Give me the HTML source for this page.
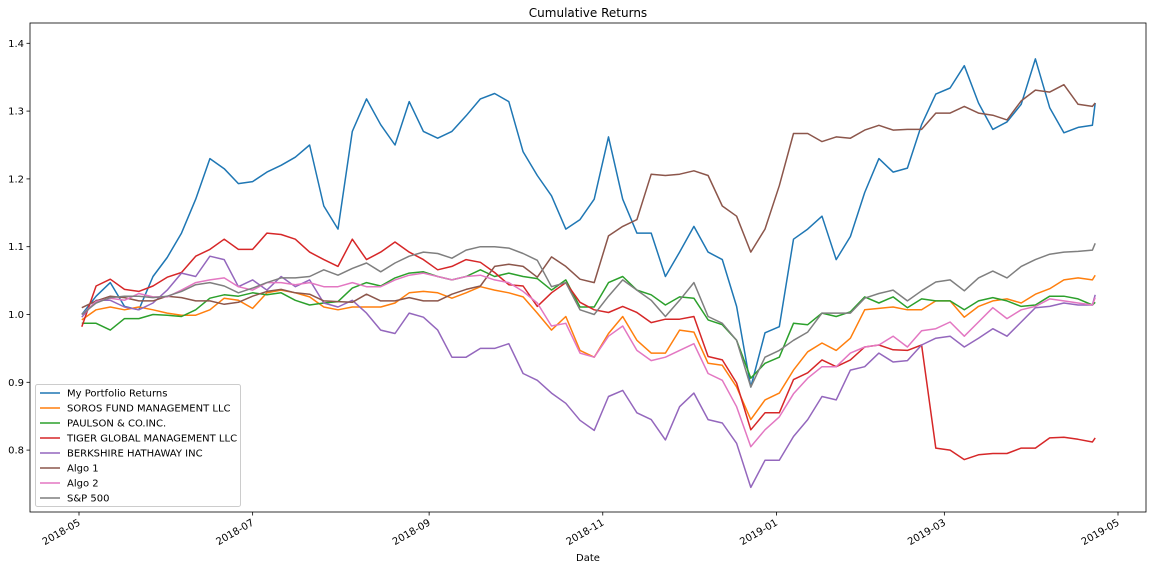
<!DOCTYPE html>
<html><head><meta charset="utf-8"><style>
html,body{margin:0;padding:0;background:#fff;}
svg text{font-family:"DejaVu Sans","Liberation Sans",sans-serif;fill:#000;}
</style></head><body>
<svg id="chart" width="1153" height="570" viewBox="0 0 1153 570" xmlns="http://www.w3.org/2000/svg">
<rect x="0" y="0" width="1153" height="570" fill="#fff"/>
<text x="588" y="17" font-size="12" text-anchor="middle">Cumulative Returns</text>
<g id="series"></g>
<g id="axes"></g>
<g id="legend"></g>
<text x="588" y="561" font-size="10" text-anchor="middle">Date</text>
</svg>
<script>
// day offsets from 2018-05-01
const dayOffsets = [1,6,11,16,21,26,31,36,41,46,51,56,61,66,71,76,81,86,91,96,101,106,111,116,121,126,131,136,141,146,151,156,161,166,171,176,181,186,191,196,201,206,211,216,221,226,231,236,241,246,251,256,261,266,271,276,281,286,291,296,301,306,311,316,321,326,331,336,341,346,351,356,357];
const seriesNames = ["My Portfolio Returns","SOROS FUND MANAGEMENT LLC","PAULSON & CO.INC.","TIGER GLOBAL MANAGEMENT LLC","BERKSHIRE HATHAWAY INC","Algo 1","Algo 2","S&P 500"];
const myPortfolio = [1.0,1.027,1.047,1.012,1.007,1.056,1.084,1.12,1.17,1.23,1.215,1.193,1.196,1.21,1.22,1.232,1.25,1.16,1.126,1.27,1.318,1.28,1.25,1.314,1.27,1.26,1.27,1.293,1.318,1.326,1.314,1.24,1.205,1.175,1.126,1.14,1.17,1.262,1.17,1.12,1.12,1.056,1.092,1.13,1.092,1.081,1.012,0.893,0.973,0.982,1.111,1.126,1.145,1.081,1.115,1.18,1.23,1.21,1.216,1.28,1.325,1.334,1.367,1.312,1.273,1.284,1.31,1.377,1.305,1.268,1.276,1.279,1.312];
const soros = [0.992,1.007,1.011,1.007,1.011,1.007,1.002,0.999,0.999,1.007,1.024,1.021,1.009,1.032,1.036,1.032,1.026,1.011,1.007,1.011,1.011,1.011,1.017,1.032,1.034,1.032,1.024,1.032,1.041,1.036,1.032,1.026,1.002,0.977,0.997,0.947,0.937,0.972,0.997,0.962,0.943,0.943,0.977,0.974,0.928,0.925,0.893,0.845,0.874,0.884,0.918,0.945,0.958,0.947,0.965,1.007,1.009,1.011,1.007,1.007,1.02,1.02,0.996,1.012,1.02,1.023,1.017,1.03,1.038,1.051,1.054,1.051,1.058];
const paulson = [0.987,0.987,0.977,0.994,0.994,1.0,0.999,0.997,1.007,1.024,1.029,1.027,1.032,1.029,1.032,1.021,1.014,1.017,1.019,1.039,1.047,1.042,1.054,1.061,1.063,1.056,1.051,1.056,1.066,1.056,1.061,1.056,1.053,1.036,1.051,1.011,1.011,1.047,1.056,1.036,1.029,1.014,1.026,1.024,0.992,0.985,0.962,0.906,0.928,0.937,0.987,0.985,1.002,0.997,1.004,1.026,1.017,1.026,1.01,1.023,1.02,1.02,1.007,1.02,1.025,1.02,1.012,1.014,1.027,1.027,1.023,1.014,1.018];
const tiger = [0.982,1.042,1.052,1.037,1.034,1.042,1.055,1.062,1.086,1.096,1.111,1.096,1.096,1.12,1.118,1.111,1.092,1.081,1.071,1.111,1.081,1.092,1.107,1.092,1.081,1.066,1.071,1.081,1.077,1.062,1.044,1.042,1.012,1.032,1.047,1.018,1.007,1.003,1.012,1.003,0.988,0.993,0.993,0.997,0.938,0.933,0.899,0.83,0.855,0.855,0.904,0.914,0.933,0.923,0.933,0.952,0.955,0.948,0.947,0.955,0.803,0.80,0.786,0.793,0.795,0.795,0.803,0.803,0.818,0.819,0.816,0.812,0.818];
const berkshire = [0.996,1.021,1.021,1.011,1.007,1.017,1.036,1.061,1.056,1.086,1.081,1.041,1.051,1.036,1.056,1.041,1.051,1.017,1.011,1.021,1.002,0.977,0.972,1.002,0.996,0.977,0.937,0.937,0.95,0.95,0.957,0.913,0.903,0.884,0.869,0.844,0.829,0.879,0.888,0.855,0.845,0.815,0.864,0.884,0.845,0.84,0.81,0.745,0.785,0.785,0.82,0.845,0.879,0.874,0.918,0.923,0.943,0.93,0.932,0.955,0.965,0.968,0.952,0.965,0.979,0.968,0.989,1.01,1.012,1.017,1.014,1.014,1.029];
const algo1 = [1.01,1.02,1.027,1.025,1.02,1.02,1.027,1.025,1.02,1.02,1.015,1.018,1.027,1.034,1.037,1.032,1.03,1.02,1.019,1.018,1.03,1.02,1.02,1.025,1.02,1.02,1.03,1.037,1.042,1.071,1.074,1.071,1.055,1.085,1.071,1.052,1.047,1.116,1.13,1.14,1.207,1.205,1.207,1.212,1.205,1.16,1.145,1.092,1.126,1.19,1.267,1.267,1.255,1.262,1.26,1.272,1.279,1.272,1.273,1.273,1.297,1.297,1.307,1.297,1.294,1.287,1.315,1.331,1.328,1.339,1.31,1.307,1.312];
const algo2 = [1.0,1.019,1.024,1.021,1.031,1.026,1.026,1.036,1.047,1.051,1.054,1.041,1.036,1.047,1.047,1.044,1.047,1.041,1.041,1.047,1.041,1.041,1.051,1.058,1.061,1.056,1.051,1.056,1.058,1.051,1.047,1.034,1.017,0.983,0.987,0.943,0.937,0.968,0.983,0.947,0.932,0.937,0.947,0.957,0.913,0.903,0.864,0.805,0.83,0.849,0.883,0.906,0.923,0.923,0.943,0.952,0.955,0.968,0.952,0.976,0.979,0.989,0.968,0.989,1.01,0.994,1.007,1.012,1.023,1.02,1.017,1.014,1.025];
const sp500 = [1.0,1.017,1.025,1.027,1.027,1.025,1.027,1.034,1.044,1.047,1.042,1.032,1.039,1.047,1.054,1.054,1.056,1.066,1.058,1.068,1.076,1.063,1.076,1.086,1.092,1.09,1.083,1.095,1.1,1.1,1.098,1.09,1.08,1.041,1.047,1.007,1.0,1.027,1.051,1.036,1.021,0.997,1.021,1.047,0.997,0.987,0.962,0.893,0.937,0.947,0.962,0.974,1.002,1.002,1.002,1.024,1.031,1.036,1.02,1.035,1.048,1.051,1.035,1.054,1.064,1.054,1.071,1.081,1.089,1.092,1.093,1.095,1.105];
const yTicks = [0.8,0.9,1.0,1.1,1.2,1.3,1.4];
const xTickDays = [0,61,123,184,245,304,365];
const xTickLabels = ["2018-05","2018-07","2018-09","2018-11","2019-01","2019-03","2019-05"];

const NS = "http://www.w3.org/2000/svg";
const PL = 30, PR = 1146, PT = 23, PB = 512;
function xScale(d){ return 79 + d * (1118 - 79) / 365; }
function yScale(v){ return 43.3 + (1.4 - v) * 678; }
function mk(tag, attrs, parent){ const e = document.createElementNS(NS, tag); for (const k in attrs) e.setAttribute(k, attrs[k]); parent.appendChild(e); return e; }

const colors = ["#1f77b4","#ff7f0e","#2ca02c","#d62728","#9467bd","#8c564b","#e377c2","#7f7f7f"];
const allSeries = [myPortfolio, soros, paulson, tiger, berkshire, algo1, algo2, sp500];
const slugs = ["my-portfolio-line","soros-line","paulson-line","tiger-line","berkshire-line","algo1-line","algo2-line","sp500-line"];

const sg = document.getElementById("series");
allSeries.forEach((vals, i) => {
  const pts = vals.map((v, j) => xScale(dayOffsets[j]).toFixed(1) + "," + yScale(v).toFixed(1)).join(" ");
  const pl = mk("polyline", {points: pts, fill: "none", stroke: colors[i], "stroke-width": 1.5, "stroke-linejoin": "round"}, sg);
  
  
});

const ag = document.getElementById("axes");
const frame = mk("rect", {x: PL, y: PT, width: PR - PL, height: PB - PT, fill: "none", stroke: "#000", "stroke-width": 0.8}, ag);


yTicks.forEach(v => {
  const y = yScale(v);
  const t = mk("line", {x1: PL - 3.5, x2: PL, y1: y, y2: y, stroke: "#000", "stroke-width": 0.8}, ag);
  
  
  const lb = mk("text", {x: PL - 6, y: y + 3.5, "font-size": 10, "text-anchor": "end"}, ag);
  lb.textContent = v.toFixed(1);
  
  
});
xTickDays.forEach((d, i) => {
  const x = xScale(d);
  const t = mk("line", {x1: x, x2: x, y1: PB, y2: PB + 3.5, stroke: "#000", "stroke-width": 0.8}, ag);
  
  
  const lb = mk("text", {x: x, y: PB + 13, "font-size": 10, "text-anchor": "end", transform: "rotate(-30 " + x + " " + (PB + 9) + ")"}, ag);
  lb.textContent = xTickLabels[i];
  
  
});

const lg = document.getElementById("legend");
const box = mk("rect", {x: 35.5, y: 384.5, width: 205, height: 122, rx: 2, fill: "#fff", "fill-opacity": 0.8, stroke: "#ccc", "stroke-width": 1}, lg);


seriesNames.forEach((n, i) => {
  const y = 393 + i * 15;
  const ln = mk("line", {x1: 40, x2: 60, y1: y, y2: y, stroke: colors[i], "stroke-width": 1.5}, lg);
  
  
  const tx = mk("text", {x: 67, y: y + 3.5, "font-size": 10}, lg);
  tx.textContent = n;
  
  
});
</script>
</body></html>
